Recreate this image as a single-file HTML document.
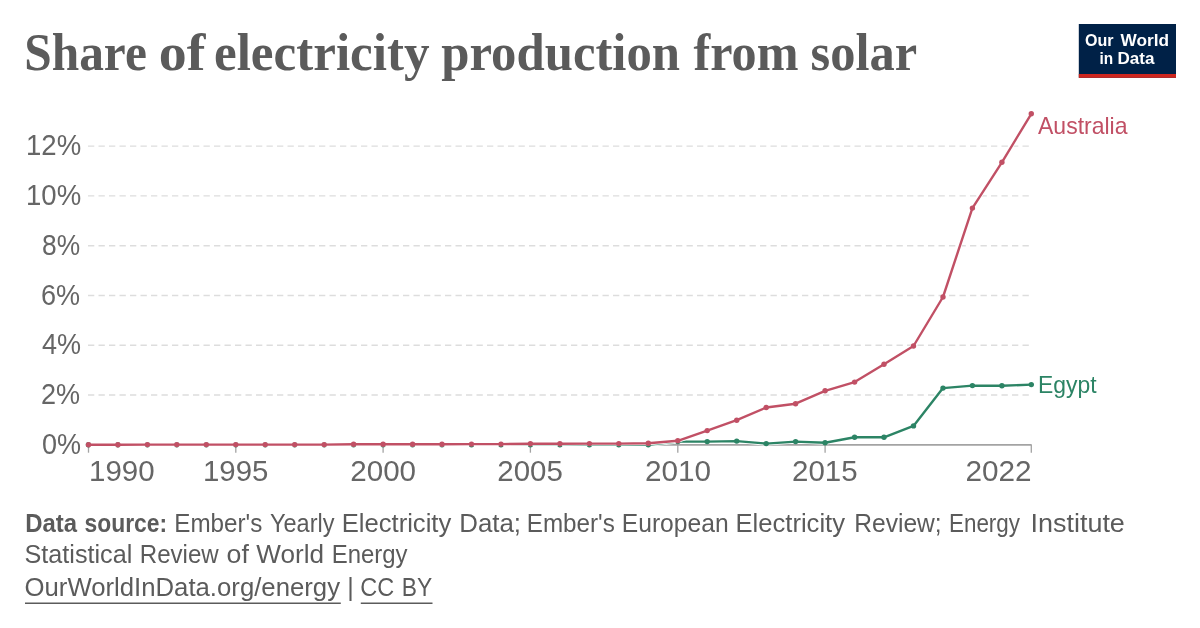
<!DOCTYPE html>
<html lang="en">
<head>
<meta charset="utf-8">
<title>Share of electricity production from solar</title>
<style>
html,body{margin:0;padding:0;background:#fff;}
body{width:1200px;height:628px;overflow:hidden;}
svg{display:block;}
.sans{font-family:"Liberation Sans",sans-serif;}
.serif{font-family:"Liberation Serif",serif;}
</style>
</head>
<body>
<svg width="1200" height="628" viewBox="0 0 1200 628">
<rect width="1200" height="628" fill="#ffffff"/>
<!-- title -->
<g class="serif" font-size="52" font-weight="bold" fill="#5b5b5b">
<text x="24.25" y="70.0" textLength="122.57" lengthAdjust="spacingAndGlyphs">Share</text>
<text x="158.75" y="70.0" textLength="46.55" lengthAdjust="spacingAndGlyphs">of</text>
<text x="214.00" y="70.0" textLength="215.51" lengthAdjust="spacingAndGlyphs">electricity</text>
<text x="441.25" y="70.0" textLength="238.75" lengthAdjust="spacingAndGlyphs">production</text>
<text x="693.50" y="70.0" textLength="105.01" lengthAdjust="spacingAndGlyphs">from</text>
<text x="810.50" y="70.0" textLength="106.54" lengthAdjust="spacingAndGlyphs">solar</text>
</g>
<!-- logo -->
<g>
<rect x="1078.8" y="24" width="97.2" height="53.8" fill="#002147"/>
<rect x="1078.8" y="74" width="97.2" height="3.8" fill="#ce261e"/>
<g class="sans" font-size="16.7" font-weight="bold" fill="#ffffff">
<text x="1085.00" y="45.8" textLength="28.53" lengthAdjust="spacingAndGlyphs">Our</text>
<text x="1120.50" y="45.8" textLength="48.52" lengthAdjust="spacingAndGlyphs">World</text>
<text x="1099.50" y="64.0" textLength="13.68" lengthAdjust="spacingAndGlyphs">in</text>
<text x="1117.50" y="64.0" textLength="37.01" lengthAdjust="spacingAndGlyphs">Data</text>
</g>
</g>
<!-- grid -->
<g stroke="#dddddd" stroke-width="1.4" stroke-dasharray="6.3,4.2">
<line x1="88" x2="1031.4" y1="395.0" y2="395.0"/>
<line x1="88" x2="1031.4" y1="345.2" y2="345.2"/>
<line x1="88" x2="1031.4" y1="295.5" y2="295.5"/>
<line x1="88" x2="1031.4" y1="245.7" y2="245.7"/>
<line x1="88" x2="1031.4" y1="195.9" y2="195.9"/>
<line x1="88" x2="1031.4" y1="146.1" y2="146.1"/>
</g>
<!-- axis -->
<g stroke="#a3a3a3">
<line x1="88" x2="1031.6" y1="444.9" y2="444.9" stroke-width="1.9"/>
<line x1="88.5" x2="88.5" y1="444.8" y2="452.7" stroke-width="1.3"/>
<line x1="235.8" x2="235.8" y1="444.8" y2="452.7" stroke-width="1.3"/>
<line x1="383.1" x2="383.1" y1="444.8" y2="452.7" stroke-width="1.3"/>
<line x1="530.4" x2="530.4" y1="444.8" y2="452.7" stroke-width="1.3"/>
<line x1="677.8" x2="677.8" y1="444.8" y2="452.7" stroke-width="1.3"/>
<line x1="825.1" x2="825.1" y1="444.8" y2="452.7" stroke-width="1.3"/>
<line x1="1031.3" x2="1031.3" y1="444.8" y2="452.7" stroke-width="1.3"/>
</g>
<g class="sans" font-size="28.8" fill="#666666">
<text x="42.00" y="454.0" textLength="39.07" lengthAdjust="spacingAndGlyphs">0%</text>
<text x="41.00" y="404.2" textLength="39.10" lengthAdjust="spacingAndGlyphs">2%</text>
<text x="42.00" y="354.4" textLength="39.07" lengthAdjust="spacingAndGlyphs">4%</text>
<text x="41.00" y="304.7" textLength="39.10" lengthAdjust="spacingAndGlyphs">6%</text>
<text x="42.00" y="254.9" textLength="38.10" lengthAdjust="spacingAndGlyphs">8%</text>
<text x="26.00" y="205.1" textLength="55.15" lengthAdjust="spacingAndGlyphs">10%</text>
<text x="26.00" y="155.3" textLength="55.15" lengthAdjust="spacingAndGlyphs">12%</text>
<text x="89.00" y="480.6" textLength="65.63" lengthAdjust="spacingAndGlyphs">1990</text>
<text x="203.00" y="480.6" textLength="65.42" lengthAdjust="spacingAndGlyphs">1995</text>
<text x="350.25" y="480.6" textLength="65.81" lengthAdjust="spacingAndGlyphs">2000</text>
<text x="497.25" y="480.6" textLength="65.56" lengthAdjust="spacingAndGlyphs">2005</text>
<text x="645.00" y="480.6" textLength="66.06" lengthAdjust="spacingAndGlyphs">2010</text>
<text x="792.00" y="480.6" textLength="65.55" lengthAdjust="spacingAndGlyphs">2015</text>
<text x="965.50" y="480.6" textLength="66.11" lengthAdjust="spacingAndGlyphs">2022</text>
</g>
<!-- series -->
<g fill="#2c8465">
<polyline points="88.5,444.8 117.9,444.8 147.4,444.8 176.8,444.8 206.3,444.8 235.8,444.8 265.2,444.8 294.7,444.8 324.2,444.8 353.6,444.8 383.1,444.8 412.6,444.8 442.0,444.8 471.5,444.8 501.0,444.8 530.4,444.8 559.9,444.8 589.4,444.8 618.8,444.8 648.3,444.8 677.8,441.6 707.2,441.6 736.7,441.1 766.2,443.6 795.6,441.6 825.1,442.8 854.6,437.3 884.0,437.3 913.5,425.9 943.0,388.1 972.4,385.6 1001.9,385.8 1031.3,384.6" fill="none" stroke="#ffffff" stroke-width="4.0" stroke-linejoin="round" stroke-linecap="round"/>
<polyline points="88.5,444.8 117.9,444.8 147.4,444.8 176.8,444.8 206.3,444.8 235.8,444.8 265.2,444.8 294.7,444.8 324.2,444.8 353.6,444.8 383.1,444.8 412.6,444.8 442.0,444.8 471.5,444.8 501.0,444.8 530.4,444.8 559.9,444.8 589.4,444.8 618.8,444.8 648.3,444.8 677.8,441.6 707.2,441.6 736.7,441.1 766.2,443.6 795.6,441.6 825.1,442.8 854.6,437.3 884.0,437.3 913.5,425.9 943.0,388.1 972.4,385.6 1001.9,385.8 1031.3,384.6" fill="none" stroke="#2c8465" stroke-width="2.4" stroke-linejoin="round" stroke-linecap="round"/>
<circle cx="88.5" cy="444.8" r="2.7"/><circle cx="117.9" cy="444.8" r="2.7"/><circle cx="147.4" cy="444.8" r="2.7"/><circle cx="176.8" cy="444.8" r="2.7"/><circle cx="206.3" cy="444.8" r="2.7"/><circle cx="235.8" cy="444.8" r="2.7"/><circle cx="265.2" cy="444.8" r="2.7"/><circle cx="294.7" cy="444.8" r="2.7"/><circle cx="324.2" cy="444.8" r="2.7"/><circle cx="353.6" cy="444.8" r="2.7"/><circle cx="383.1" cy="444.8" r="2.7"/><circle cx="412.6" cy="444.8" r="2.7"/><circle cx="442.0" cy="444.8" r="2.7"/><circle cx="471.5" cy="444.8" r="2.7"/><circle cx="501.0" cy="444.8" r="2.7"/><circle cx="530.4" cy="444.8" r="2.7"/><circle cx="559.9" cy="444.8" r="2.7"/><circle cx="589.4" cy="444.8" r="2.7"/><circle cx="618.8" cy="444.8" r="2.7"/><circle cx="648.3" cy="444.8" r="2.7"/><circle cx="677.8" cy="441.6" r="2.7"/><circle cx="707.2" cy="441.6" r="2.7"/><circle cx="736.7" cy="441.1" r="2.7"/><circle cx="766.2" cy="443.6" r="2.7"/><circle cx="795.6" cy="441.6" r="2.7"/><circle cx="825.1" cy="442.8" r="2.7"/><circle cx="854.6" cy="437.3" r="2.7"/><circle cx="884.0" cy="437.3" r="2.7"/><circle cx="913.5" cy="425.9" r="2.7"/><circle cx="943.0" cy="388.1" r="2.7"/><circle cx="972.4" cy="385.6" r="2.7"/><circle cx="1001.9" cy="385.8" r="2.7"/><circle cx="1031.3" cy="384.6" r="2.7"/>
</g>

<g fill="#c15065">
<polyline points="88.5,444.8 117.9,444.8 147.4,444.6 176.8,444.6 206.3,444.6 235.8,444.6 265.2,444.6 294.7,444.6 324.2,444.6 353.6,444.3 383.1,444.3 412.6,444.3 442.0,444.3 471.5,444.1 501.0,444.1 530.4,443.8 559.9,443.8 589.4,443.6 618.8,443.6 648.3,443.3 677.8,440.8 707.2,430.6 736.7,420.2 766.2,407.5 795.6,403.7 825.1,390.8 854.6,382.1 884.0,364.2 913.5,346.0 943.0,297.0 972.4,208.1 1001.9,162.3 1031.3,113.8" fill="none" stroke="#ffffff" stroke-width="4.0" stroke-linejoin="round" stroke-linecap="round"/>
<polyline points="88.5,444.8 117.9,444.8 147.4,444.6 176.8,444.6 206.3,444.6 235.8,444.6 265.2,444.6 294.7,444.6 324.2,444.6 353.6,444.3 383.1,444.3 412.6,444.3 442.0,444.3 471.5,444.1 501.0,444.1 530.4,443.8 559.9,443.8 589.4,443.6 618.8,443.6 648.3,443.3 677.8,440.8 707.2,430.6 736.7,420.2 766.2,407.5 795.6,403.7 825.1,390.8 854.6,382.1 884.0,364.2 913.5,346.0 943.0,297.0 972.4,208.1 1001.9,162.3 1031.3,113.8" fill="none" stroke="#c15065" stroke-width="2.4" stroke-linejoin="round" stroke-linecap="round"/>
<circle cx="88.5" cy="444.8" r="2.7"/><circle cx="117.9" cy="444.8" r="2.7"/><circle cx="147.4" cy="444.6" r="2.7"/><circle cx="176.8" cy="444.6" r="2.7"/><circle cx="206.3" cy="444.6" r="2.7"/><circle cx="235.8" cy="444.6" r="2.7"/><circle cx="265.2" cy="444.6" r="2.7"/><circle cx="294.7" cy="444.6" r="2.7"/><circle cx="324.2" cy="444.6" r="2.7"/><circle cx="353.6" cy="444.3" r="2.7"/><circle cx="383.1" cy="444.3" r="2.7"/><circle cx="412.6" cy="444.3" r="2.7"/><circle cx="442.0" cy="444.3" r="2.7"/><circle cx="471.5" cy="444.1" r="2.7"/><circle cx="501.0" cy="444.1" r="2.7"/><circle cx="530.4" cy="443.8" r="2.7"/><circle cx="559.9" cy="443.8" r="2.7"/><circle cx="589.4" cy="443.6" r="2.7"/><circle cx="618.8" cy="443.6" r="2.7"/><circle cx="648.3" cy="443.3" r="2.7"/><circle cx="677.8" cy="440.8" r="2.7"/><circle cx="707.2" cy="430.6" r="2.7"/><circle cx="736.7" cy="420.2" r="2.7"/><circle cx="766.2" cy="407.5" r="2.7"/><circle cx="795.6" cy="403.7" r="2.7"/><circle cx="825.1" cy="390.8" r="2.7"/><circle cx="854.6" cy="382.1" r="2.7"/><circle cx="884.0" cy="364.2" r="2.7"/><circle cx="913.5" cy="346.0" r="2.7"/><circle cx="943.0" cy="297.0" r="2.7"/><circle cx="972.4" cy="208.1" r="2.7"/><circle cx="1001.9" cy="162.3" r="2.7"/><circle cx="1031.3" cy="113.8" r="2.7"/>
</g>

<g class="sans" font-size="23.4">
<g fill="#c15065"><text x="1038.00" y="134.0" textLength="89.50" lengthAdjust="spacingAndGlyphs">Australia</text>
</g>
<g fill="#2c8465"><text x="1038.00" y="392.8" textLength="58.53" lengthAdjust="spacingAndGlyphs">Egypt</text>
</g>
</g>
<!-- footer -->
<g class="sans" font-size="25" fill="#5b5b5b">
<g font-weight="bold">
<text x="25.25" y="532.4" textLength="51.78" lengthAdjust="spacingAndGlyphs">Data</text>
<text x="84.50" y="532.4" textLength="82.60" lengthAdjust="spacingAndGlyphs">source:</text>
</g>
<text x="174.25" y="532.4" textLength="88.08" lengthAdjust="spacingAndGlyphs">Ember's</text>
<text x="270.00" y="532.4" textLength="64.51" lengthAdjust="spacingAndGlyphs">Yearly</text>
<text x="341.75" y="532.4" textLength="109.53" lengthAdjust="spacingAndGlyphs">Electricity</text>
<text x="459.25" y="532.4" textLength="61.79" lengthAdjust="spacingAndGlyphs">Data;</text>
<text x="526.75" y="532.4" textLength="88.08" lengthAdjust="spacingAndGlyphs">Ember's</text>
<text x="621.75" y="532.4" textLength="106.84" lengthAdjust="spacingAndGlyphs">European</text>
<text x="735.50" y="532.4" textLength="109.53" lengthAdjust="spacingAndGlyphs">Electricity</text>
<text x="854.25" y="532.4" textLength="87.43" lengthAdjust="spacingAndGlyphs">Review;</text>
<text x="949.00" y="532.4" textLength="71.01" lengthAdjust="spacingAndGlyphs">Energy</text>
<text x="1030.50" y="532.4" textLength="94.37" lengthAdjust="spacingAndGlyphs">Institute</text>
<text x="24.50" y="562.8" textLength="107.81" lengthAdjust="spacingAndGlyphs">Statistical</text>
<text x="139.75" y="562.8" textLength="79.04" lengthAdjust="spacingAndGlyphs">Review</text>
<text x="226.50" y="562.8" textLength="22.33" lengthAdjust="spacingAndGlyphs">of</text>
<text x="256.25" y="562.8" textLength="67.77" lengthAdjust="spacingAndGlyphs">World</text>
<text x="331.75" y="562.8" textLength="75.80" lengthAdjust="spacingAndGlyphs">Energy</text>
<text x="24.50" y="595.5" textLength="315.50" lengthAdjust="spacingAndGlyphs">OurWorldInData.org/energy</text>
<text x="360.25" y="595.5" textLength="33.88" lengthAdjust="spacingAndGlyphs">CC</text>
<text x="401.75" y="595.5" textLength="30.44" lengthAdjust="spacingAndGlyphs">BY</text>
<text x="347.2" y="595.5">|</text>
<g stroke="#5b5b5b" stroke-width="1.6">
<line x1="25" x2="340.8" y1="603.2" y2="603.2"/>
<line x1="360.8" x2="432.5" y1="603.2" y2="603.2"/>
</g>
</g>
</svg>
</body>
</html>
